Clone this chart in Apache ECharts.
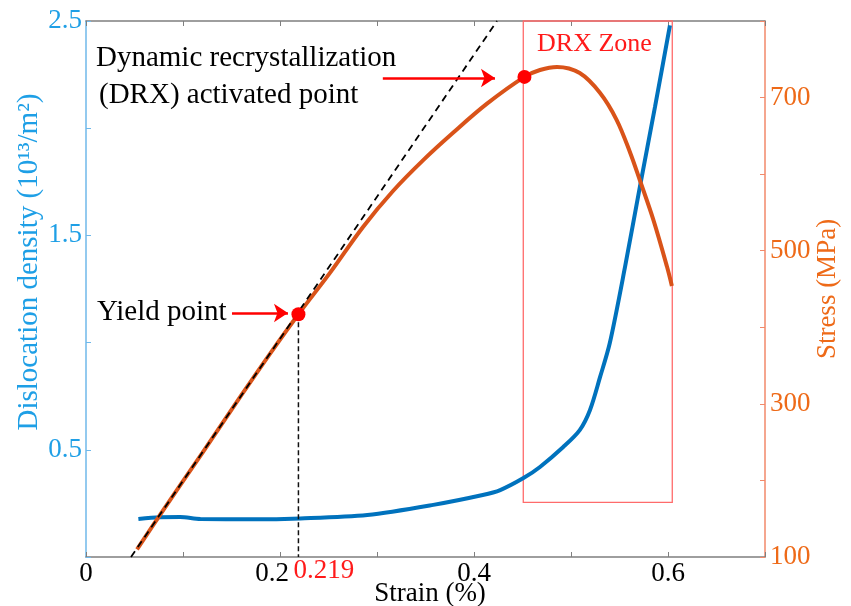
<!DOCTYPE html>
<html><head><meta charset="utf-8">
<script src="https://cdn.jsdelivr.net/npm/echarts@6/dist/echarts.min.js"></script>
<style>html,body{margin:0;padding:0;background:#fff}#c{width:851px;height:606px}</style>
</head><body><div id="c"></div>
<script>
// ---- data ----
const strainBlue = [0.054, 0.076, 0.097, 0.118, 0.17, 0.221, 0.29, 0.358, 0.409, 0.427, 0.451, 0.468, 0.492, 0.509, 0.5196, 0.53, 0.54, 0.5557, 0.571, 0.5866, 0.602];
const density    = [0.177, 0.185, 0.186, 0.177, 0.176, 0.18, 0.196, 0.243, 0.289, 0.312, 0.368, 0.42, 0.513, 0.592, 0.686, 0.84, 0.998, 1.353, 1.726, 2.099, 2.48];
const strainStress = [0.0526, 0.08, 0.12, 0.16, 0.19, 0.219, 0.2515, 0.2856, 0.3165, 0.3474, 0.3784, 0.4134, 0.452, 0.468, 0.4856, 0.509, 0.53, 0.547, 0.561, 0.571, 0.585, 0.599, 0.604];
const stress       = [110, 162, 236, 311, 366, 417, 471, 531, 578, 618, 654, 692, 727, 736, 740, 732, 706, 671, 628, 592, 540, 479, 454];
const yieldPoint = [0.219, 417];
const drxPoint = [0.452, 727];
const elasticLineX = [0.0464, 0.4237];
const elasticLineY = [100, 800];
const drxZoneX = [0.4508, 0.6044];
const drxZoneY = [171.4, 800];
const drxArrowX = [0.306, 0.4216];
const drxArrowY = 725.6;
const yieldArrowX = [0.1505, 0.2082];
const yieldArrowY = 418.7;
const xTickLabels = ['0', '0.2', '0.4', '0.6'];
const leftTickLabels = ['0.5', '1.5', '2.5'];
const rightTickLabels = ['100', '300', '500', '700'];
const annoText = ['Dynamic recrystallization', '(DRX) activated point', 'Yield point', 'DRX Zone'];
const annoX = [0.0103, 0.0134, 0.0113, 0.465];
const annoY = [751, 703, 420, 770];
const yieldLabel = '0.219';

// ---- style ----
const FONT = 'Liberation Serif';
const FS = 27;
const BLUE_AX = '#1e9fe6', BLUE_AXLINE = '#6fb8ea';
const ORANGE_AX = '#ee6a18', ORANGE_AXLINE = '#f2896a';

const chart = echarts.init(document.getElementById('c'));
const fmt = v => String(Math.round(v * 1000) / 1000);

chart.setOption({
  animation: false,
  backgroundColor: '#fff',
  grid: { left: 86, right: 86, top: 21, bottom: 49, containLabel: false, outerBoundsMode: 'none' },
  xAxis: [{
    type: 'value', position: 'bottom', min: 0, max: 0.7, interval: 0.1,
    axisLine: { show: true, onZero: false, lineStyle: { color: '#7f7f7f', width: 1.5 } },
    axisTick: { show: true, inside: true, length: 5, lineStyle: { color: '#7f7f7f' } },
    splitLine: { show: false },
    axisLabel: {
      color: '#000', fontFamily: FONT, fontSize: FS, margin: 3,
      formatter: v => { const s = fmt(v); if (!xTickLabels.includes(s)) return ''; return s === '0.2' ? '{s|0.2}' : s; },
      rich: { s: { fontFamily: FONT, fontSize: FS, color: '#000', padding: [0, 16, 0, 0] } }
    },
    name: 'Strain (%)', nameLocation: 'middle', nameGap: 23, nameMoveOverlap: false,
    nameTextStyle: { color: '#000', fontFamily: FONT, fontSize: FS, padding: [0, 0, 0, 9] }
  }, {
    type: 'value', position: 'top', min: 0, max: 0.7, interval: 0.1,
    axisLine: { show: true, onZero: false, lineStyle: { color: '#7f7f7f', width: 1.5 } },
    axisTick: { show: true, inside: true, length: 5, lineStyle: { color: '#7f7f7f' } },
    axisLabel: { show: false }, splitLine: { show: false }
  }],
  yAxis: [{
    type: 'value', position: 'left', min: 0, max: 2.5, interval: 0.5,
    axisLine: { show: true, onZero: false, lineStyle: { color: BLUE_AXLINE, width: 1.5 } },
    axisTick: { show: true, inside: true, length: 5, lineStyle: { color: BLUE_AXLINE } },
    splitLine: { show: false },
    axisLabel: {
      color: BLUE_AX, fontFamily: FONT, fontSize: FS, margin: 4,
      formatter: v => leftTickLabels.includes(fmt(v)) ? fmt(v) : ''
    },
    name: 'Dislocation density (10¹³/m²)', nameLocation: 'middle', nameGap: 42, nameRotate: 90, nameMoveOverlap: false,
    nameTextStyle: { color: BLUE_AX, fontFamily: FONT, fontSize: 29, padding: [0, 0, 0, 54] }
  }, {
    type: 'value', position: 'right', min: 100, max: 800, interval: 100,
    axisLine: { show: true, onZero: false, lineStyle: { color: ORANGE_AXLINE, width: 1.5 } },
    axisTick: { show: true, inside: true, length: 5, lineStyle: { color: ORANGE_AXLINE } },
    splitLine: { show: false },
    axisLabel: {
      color: ORANGE_AX, fontFamily: FONT, fontSize: FS, margin: 5,
      formatter: v => rightTickLabels.includes(fmt(v)) ? fmt(v) : ''
    },
    name: 'Stress (MPa)', nameLocation: 'middle', nameGap: 49, nameRotate: 90, nameMoveOverlap: false,
    nameTextStyle: { color: ORANGE_AX, fontFamily: FONT, fontSize: FS }
  }],
  series: [
    {
      type: 'line', name: 'density', xAxisIndex: 0, yAxisIndex: 0, smooth: 0.3, symbol: 'none',
      lineStyle: { color: '#0072BD', width: 4 }, z: 3,
      data: strainBlue.map((x, i) => [x, density[i]])
    },
    {
      type: 'line', name: 'stress', xAxisIndex: 0, yAxisIndex: 1, smooth: 0.35, symbol: 'none',
      lineStyle: { color: '#D95319', width: 4 }, z: 3,
      data: strainStress.map((x, i) => [x, stress[i]]),
      markArea: {
        silent: true,
        itemStyle: { color: 'rgba(0,0,0,0)', borderColor: '#ff6b6b', borderWidth: 1.3 },
        data: [[{ coord: [drxZoneX[0], drxZoneY[0]] }, { coord: [drxZoneX[1], drxZoneY[1]] }]]
      }
    },
    {
      type: 'line', name: 'elastic', xAxisIndex: 0, yAxisIndex: 1, symbol: 'none', z: 4,
      lineStyle: { color: '#000', width: 1.8, type: [7, 5] },
      data: elasticLineX.map((x, i) => [x, elasticLineY[i]])
    },
    {
      type: 'line', name: 'yieldDrop', xAxisIndex: 0, yAxisIndex: 1, symbol: 'none', z: 4,
      lineStyle: { color: '#111', width: 1.5, type: [5, 3] },
      data: [[yieldPoint[0], yieldPoint[1]], [yieldPoint[0], 100]]
    },
    {
      type: 'lines', coordinateSystem: 'cartesian2d', xAxisIndex: 0, yAxisIndex: 1, z: 5,
      symbol: ['none', 'arrow'], symbolSize: [12, 14],
      lineStyle: { color: '#ff0000', width: 2.5, opacity: 1 },
      data: [
        { coords: [[drxArrowX[0], drxArrowY], [drxArrowX[1], drxArrowY]] },
        { coords: [[yieldArrowX[0], yieldArrowY], [yieldArrowX[1], yieldArrowY]] }
      ]
    },
    {
      type: 'scatter', name: 'points', xAxisIndex: 0, yAxisIndex: 1, symbolSize: 14, z: 6,
      itemStyle: { color: '#ff0000', opacity: 1 },
      data: [yieldPoint, drxPoint]
    },
    {
      type: 'scatter', name: 'annotations', xAxisIndex: 0, yAxisIndex: 1, symbolSize: 0, z: 7, silent: true,
      itemStyle: { opacity: 1 },
      data: annoText.map((t, i) => ({
        value: [annoX[i], annoY[i]], name: t,
        label: {
          show: true, position: 'right', distance: 0, formatter: '{b}',
          fontFamily: FONT, fontSize: i === 3 ? 26 : 29,
          color: i === 3 ? '#ff1a1a' : '#000', opacity: 1
        }
      })).concat([{
        value: [yieldPoint[0], 100], name: yieldLabel,
        label: { show: true, position: 'right', distance: 0, offset: [-5, 14], formatter: '{b}',
          fontFamily: FONT, fontSize: FS, color: '#ff1a1a', opacity: 1 }
      }])
    }
  ]
});
</script></body></html>
